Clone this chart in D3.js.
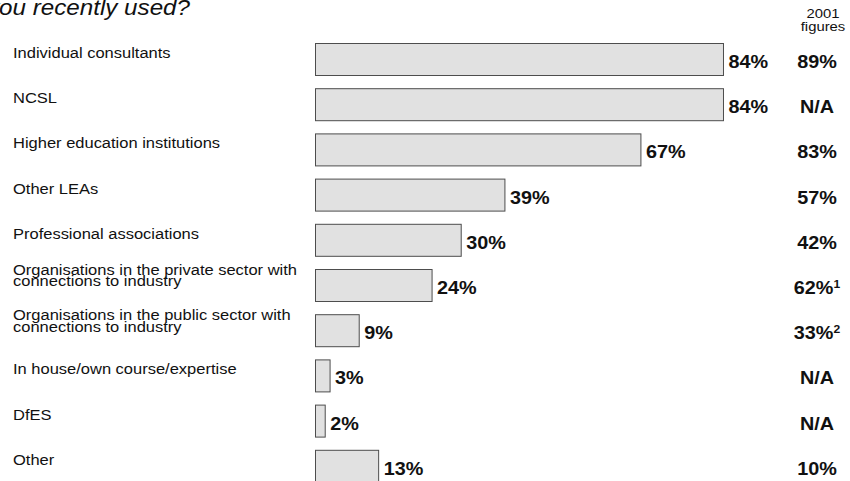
<!DOCTYPE html>
<html>
<head>
<meta charset="utf-8">
<script src="https://cdn.jsdelivr.net/npm/d3@7"></script>
<style>
  html, body { margin: 0; padding: 0; background: #fff; }
  svg { display: block; font-family: "Liberation Sans", Arial, Helvetica, sans-serif; }
</style>
</head>
<body>
<svg id="chart" width="850" height="481"></svg>
<script>
// Providers used recently, share of respondents (%)
const categories = [
  "Individual consultants",
  "NCSL",
  "Higher education institutions",
  "Other LEAs",
  "Professional associations",
  "Organisations in the private sector with\nconnections to industry",
  "Organisations in the public sector with\nconnections to industry",
  "In house/own course/expertise",
  "DfES",
  "Other"
];
const values2004 = [84, 84, 67, 39, 30, 24, 9, 3, 2, 13];
// Comparison column: earlier survey (null = not asked)
const values2001 = [89, null, 83, 57, 42, 62, 33, null, null, 10];
const notes2001 = ["", "", "", "", "", "1", "2", "", "", ""];
const titleText = "you recently used?";
const headerLines = ["2001", "figures"];

const svg = d3.select("#chart");
const SX = 1.1; // horizontal stretch of the typeface

const rowStep = 45.2, barH = 32, firstTop = 43;
const x = d3.scaleLinear().domain([0, 100]).range([315, 800.7]);
const y = d3.scaleBand()
  .domain(d3.range(categories.length))
  .range([firstTop, firstTop + rowStep * (categories.length - 1) + barH])
  .paddingInner(1 - barH / rowStep)
  .paddingOuter(0);

function stretchedText(sel, tx, ty) {
  return sel.attr("transform", `translate(${tx},${ty}) scale(${SX},1)`);
}

// Title (continues off the left edge)
stretchedText(svg.append("text"), 190, 15)
  .attr("text-anchor", "end")
  .attr("font-size", 22)
  .attr("font-style", "italic")
  .attr("fill", "#111")
  .text(titleText);

// Column header
headerLines.forEach((t, i) => {
  stretchedText(svg.append("text"), 823, 18 + i * 12.5)
    .attr("text-anchor", "middle")
    .attr("font-size", 13.5)
    .attr("fill", "#111")
    .text(t);
});

// Category labels
categories.forEach((c, i) => {
  const lines = c.split("\n");
  const top = y(i);
  const g = stretchedText(svg.append("text"), 13, 0)
    .attr("font-size", 15)
    .attr("fill", "#111");
  if (lines.length === 1) {
    g.append("tspan").attr("x", 0).attr("y", top + 15).text(lines[0]);
  } else {
    lines.forEach((l, k) => {
      g.append("tspan").attr("x", 0).attr("y", top + 6 + k * 11.5).text(l);
    });
  }
});

// Bars
svg.append("g").selectAll("rect")
  .data(values2004)
  .join("rect")
  .attr("x", x(0) + 0.5)
  .attr("y", (d, i) => y(i) + 0.5)
  .attr("width", d => x(d) - x(0))
  .attr("height", y.bandwidth())
  .attr("fill", "#e1e1e1")
  .attr("stroke", "#4d4d4d")
  .attr("stroke-width", 1);

// Value labels beside bars
values2004.forEach((v, i) => {
  stretchedText(svg.append("text"), x(v) + 5.5, y(i) + 25)
    .attr("font-size", 18)
    .attr("font-weight", "bold")
    .attr("fill", "#111")
    .text(v + "%");
});

// Earlier-survey column
values2001.forEach((v, i) => {
  const t = stretchedText(svg.append("text"), 817, y(i) + 25)
    .attr("text-anchor", "middle")
    .attr("font-size", 18)
    .attr("font-weight", "bold")
    .attr("fill", "#111");
  t.append("tspan").text(v === null ? "N/A" : v + "%");
  if (notes2001[i]) {
    t.append("tspan")
      .attr("font-size", 11)
      .attr("dy", -6)
      .text(notes2001[i]);
  }
});
</script>
</body>
</html>
